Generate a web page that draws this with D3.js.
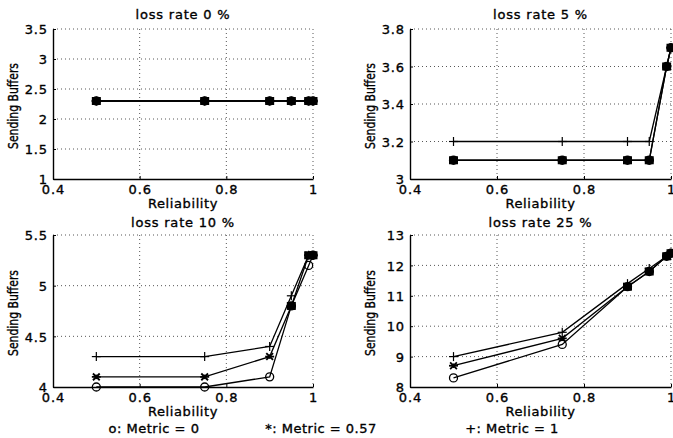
<!DOCTYPE html>
<html><head><meta charset="utf-8">
<script src="https://cdn.jsdelivr.net/npm/d3@7/dist/d3.min.js"></script>
<style>
body{margin:0;background:#fff;}
svg{display:block;font-family:"DejaVu Sans",sans-serif;}
svg text{stroke:#000;stroke-width:0.35px;fill:#000;}
</style></head><body>
<svg id="c" width="673" height="438"></svg>
<script>
const reliability = [0.5, 0.75, 0.9, 0.95, 0.99, 1.0];
const xTicks = [0.4, 0.6, 0.8, 1];
const panelTitles = ["loss rate 0 %", "loss rate 5 %", "loss rate 10 %", "loss rate 25 %"];
const yDomains = [[1, 3.5], [3, 3.8], [4, 5.5], [8, 13]];
const yTicks = [[1, 1.5, 2, 2.5, 3, 3.5], [3, 3.2, 3.4, 3.6, 3.8], [4, 4.5, 5, 5.5], [8, 9, 10, 11, 12, 13]];
const seriesNames = ["o: Metric = 0", "*: Metric = 0.57", "+: Metric = 1"];
const markers = ["o", "*", "+"];
// values per panel: [metric0, metric0.57, metric1]
const loss0 = [[2.3, 2.3, 2.3, 2.3, 2.3, 2.3], [2.3, 2.3, 2.3, 2.3, 2.3, 2.3], [2.3, 2.3, 2.3, 2.3, 2.3, 2.3]];
const loss5 = [[3.1, 3.1, 3.1, 3.1, 3.6, 3.7], [3.1, 3.1, 3.1, 3.1, 3.6, 3.7], [3.2, 3.2, 3.2, 3.2, 3.6, 3.7]];
const loss10 = [[4.0, 4.0, 4.1, 4.8, 5.2, 5.3], [4.1, 4.1, 4.3, 4.8, 5.3, 5.3], [4.3, 4.3, 4.4, 4.9, 5.3, 5.3]];
const loss25 = [[8.3, 9.4, 11.3, 11.8, 12.3, 12.4], [8.7, 9.6, 11.3, 11.8, 12.3, 12.4], [9.0, 9.8, 11.4, 11.9, 12.3, 12.4]];
const panelData = [loss0, loss5, loss10, loss25];

const svg = d3.select("#c");
const boxes = [
  {x0: 53, x1: 313, y0: 29, y1: 179, t: 10},
  {x0: 410, x1: 671, y0: 29, y1: 179, t: 10},
  {x0: 53, x1: 313, y0: 235, y1: 387, t: 8},
  {x0: 410, x1: 671, y0: 235, y1: 387, t: 8}
];
const fmt = d => String(+d.toFixed(2));

boxes.forEach((b, i) => {
  const g = svg.append("g");
  const x = d3.scaleLinear().domain([0.4, 1]).range([b.x0, b.x1]);
  const y = d3.scaleLinear().domain(yDomains[i]).range([b.y1, b.y0]);
  // grid
  g.append("g").selectAll("line").data(xTicks.slice(1)).join("line")
    .attr("x1", d => x(d)).attr("x2", d => x(d)).attr("y1", b.y0).attr("y2", b.y1)
    .attr("stroke", "#444").attr("stroke-width", 0.9).attr("stroke-dasharray", "1,3");
  g.append("g").selectAll("line").data(yTicks[i].slice(1)).join("line")
    .attr("x1", b.x0).attr("x2", b.x1).attr("y1", d => y(d)).attr("y2", d => y(d))
    .attr("stroke", "#444").attr("stroke-width", 0.9).attr("stroke-dasharray", "1,3");
  // axes
  const xa = g.append("g").attr("transform", `translate(0,${b.y1})`)
    .call(d3.axisBottom(x).tickValues(xTicks).tickFormat(fmt).tickSizeInner(-3).tickSizeOuter(0).tickPadding(6));
  const ya = g.append("g").attr("transform", `translate(${b.x0},0)`)
    .call(d3.axisLeft(y).tickValues(yTicks[i]).tickFormat(fmt).tickSizeInner(-3).tickSizeOuter(0).tickPadding(5));
  [xa, ya].forEach(a => {
    a.select(".domain").attr("stroke", "#000").attr("stroke-width", 1.4);
    a.selectAll(".tick line").attr("stroke", "#000");
    a.selectAll("text").attr("font-size", 13).attr("fill", "#000").attr("letter-spacing", "0.9px")
      .attr("font-family", "DejaVu Sans");
  });
  xa.selectAll("text").attr("dy", "0.72em");
  ya.selectAll("text").attr("dy", "0.36em");
  // labels
  g.append("text").attr("x", (b.x0 + b.x1) / 2).attr("y", b.y0 - b.t).attr("text-anchor", "middle")
    .attr("font-size", 13).attr("letter-spacing", "0.8px").text(panelTitles[i]);
  g.append("text").attr("x", (b.x0 + b.x1) / 2).attr("y", b.y1 + 29).attr("text-anchor", "middle")
    .attr("font-size", 13).attr("letter-spacing", "0.6px").text("Reliability");
  g.append("text").attr("transform", `translate(${b.x0 - 35},${(b.y0 + b.y1) / 2 + 2}) rotate(-90)`)
    .attr("text-anchor", "middle").attr("font-size", 14).attr("textLength", 86).attr("lengthAdjust", "spacingAndGlyphs")
    .text("Sending Buffers");
  // series
  const line = d3.line().x((d, k) => x(reliability[k])).y(d => y(d));
  const series = panelData[i];
  series.forEach((vals, s) => {
    g.append("path").attr("d", line(vals)).attr("fill", "none").attr("stroke", "#000").attr("stroke-width", 1.3);
  });
  series.forEach((vals, s) => {
    const mg = g.append("g").selectAll("g").data(vals).join("g")
      .attr("transform", (d, k) => `translate(${x(reliability[k])},${y(d)})`);
    const m = markers[s];
    if (m === "o") {
      mg.append("circle").attr("r", 4).attr("fill", "none").attr("stroke", "#000").attr("stroke-width", 1.3);
    } else if (m === "*") {
      const r = 4.5;
      [[-r, 0, r, 0], [-r * 0.75, -r * 0.75, r * 0.75, r * 0.75], [-r * 0.75, r * 0.75, r * 0.75, -r * 0.75], [0, -r * 0.5, 0, r * 0.5]].forEach(l => {
        mg.append("line").attr("x1", l[0]).attr("y1", l[1]).attr("x2", l[2]).attr("y2", l[3])
          .attr("stroke", "#000").attr("stroke-width", 1.8);
      });
    } else {
      const r = 4.5;
      mg.append("line").attr("x1", -r).attr("x2", r).attr("y1", 0).attr("y2", 0).attr("stroke", "#000").attr("stroke-width", 1.2);
      mg.append("line").attr("x1", 0).attr("x2", 0).attr("y1", -r).attr("y2", r).attr("stroke", "#000").attr("stroke-width", 1.2);
    }
  });
  // coincident markers print as solid blobs in the reference
  reliability.forEach((rv, k) => {
    const vals = series.map(v => v[k]);
    const seen = new Set();
    vals.forEach((v, s) => {
      const same = vals.filter(w => Math.abs(w - v) < 1e-9).length;
      if (same >= 2 && !seen.has(v)) {
        seen.add(v);
        g.append("rect").attr("x", x(rv) - 4.5).attr("y", y(v) - 4).attr("width", 9).attr("height", 8).attr("fill", "#000");
      }
    });
  });
});

// legend text
const legendX = [154, 321, 512];
svg.append("g").selectAll("text").data(seriesNames).join("text")
  .attr("x", (d, i) => legendX[i]).attr("y", 433).attr("text-anchor", "middle")
  .attr("font-size", 13).attr("letter-spacing", "0.5px").text(d => d);
</script>
</body></html>
